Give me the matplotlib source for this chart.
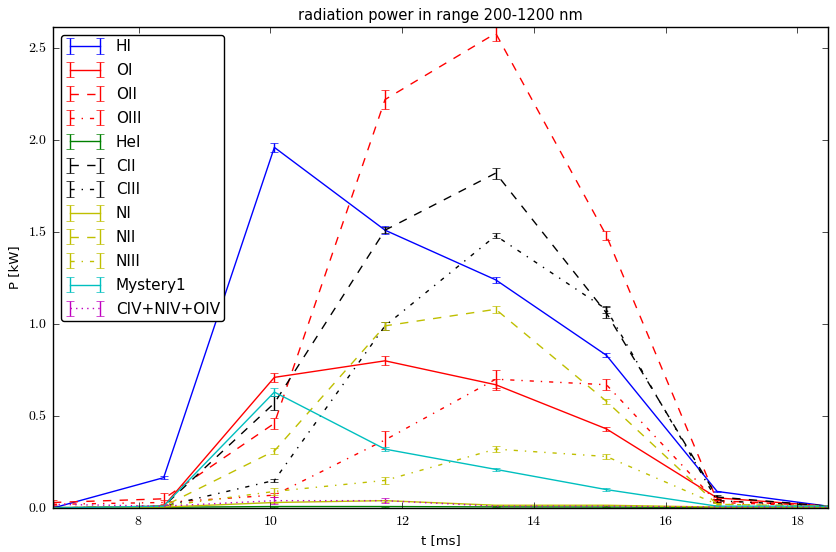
import numpy as np
import matplotlib
matplotlib.use('Agg')
import matplotlib.pyplot as plt
from matplotlib.ticker import FuncFormatter

plt.style.use('classic')
plt.rcParams['mathtext.fontset'] = 'cm'

# time points [ms]
t = [6.70, 8.38, 10.06, 11.74, 13.42, 15.10, 16.78, 18.46]

# radiated power [kW] and errors, per species
HI = [0.00, 0.165, 1.96, 1.51, 1.24, 0.83, 0.09, 0.01]
HI_err = [0.005, 0.008, 0.025, 0.02, 0.015, 0.01, 0.005, 0.003]
OI = [0.00, 0.01, 0.71, 0.80, 0.67, 0.43, 0.055, 0.01]
OI_err = [0.003, 0.005, 0.025, 0.025, 0.03, 0.01, 0.005, 0.003]
OII = [0.03, 0.05, 0.46, 2.22, 2.58, 1.48, 0.04, 0.01]
OII_err = [0.015, 0.03, 0.03, 0.05, 0.04, 0.025, 0.01, 0.005]
OIII = [0.02, 0.03, 0.07, 0.37, 0.70, 0.67, 0.03, 0.01]
OIII_err = [0.01, 0.015, 0.01, 0.05, 0.05, 0.03, 0.005, 0.005]
HeI = [0.003, 0.004, 0.008, 0.008, 0.006, 0.005, 0.003, 0.003]
HeI_err = [0.002, 0.002, 0.003, 0.003, 0.003, 0.002, 0.002, 0.002]
CII = [0.00, 0.01, 0.57, 1.51, 1.82, 1.06, 0.06, 0.01]
CII_err = [0.003, 0.005, 0.04, 0.015, 0.03, 0.03, 0.01, 0.003]
CIII = [0.00, 0.01, 0.15, 0.99, 1.48, 1.08, 0.04, 0.01]
CIII_err = [0.003, 0.005, 0.01, 0.02, 0.015, 0.02, 0.005, 0.003]
NI = [0.00, 0.005, 0.03, 0.04, 0.015, 0.015, 0.005, 0.005]
NI_err = [0.002, 0.002, 0.005, 0.005, 0.004, 0.004, 0.002, 0.002]
NII = [0.00, 0.01, 0.31, 0.99, 1.08, 0.58, 0.02, 0.01]
NII_err = [0.003, 0.005, 0.015, 0.02, 0.02, 0.015, 0.005, 0.003]
NIII = [0.00, 0.01, 0.09, 0.15, 0.32, 0.28, 0.02, 0.01]
NIII_err = [0.003, 0.005, 0.02, 0.02, 0.015, 0.015, 0.005, 0.003]
Mystery1 = [0.00, 0.01, 0.63, 0.32, 0.21, 0.10, 0.01, 0.01]
Mystery1_err = [0.003, 0.005, 0.02, 0.01, 0.01, 0.008, 0.003, 0.003]
CNO_IV = [0.02, 0.01, 0.04, 0.04, 0.01, 0.01, 0.005, 0.005]
CNO_IV_err = [0.01, 0.005, 0.02, 0.015, 0.008, 0.008, 0.003, 0.003]

series = [
    ('HI', HI, HI_err, 'b', '-'),
    ('OI', OI, OI_err, 'r', '-'),
    ('OII', OII, OII_err, 'r', '--'),
    ('OIII', OIII, OIII_err, 'r', '-.'),
    ('HeI', HeI, HeI_err, 'g', '-'),
    ('CII', CII, CII_err, 'k', '--'),
    ('CIII', CIII, CIII_err, 'k', '-.'),
    ('NI', NI, NI_err, 'y', '-'),
    ('NII', NII, NII_err, 'y', '--'),
    ('NIII', NIII, NIII_err, 'y', '-.'),
    ('Mystery1', Mystery1, Mystery1_err, 'c', '-'),
    ('CIV+NIV+OIV', CNO_IV, CNO_IV_err, 'm', ':'),
]

fig = plt.figure(figsize=(8.37, 5.52), dpi=100, facecolor='white')
ax = fig.add_axes([0.0633, 0.0797, 0.9257, 0.8713])

for name, y, e, c, ls in series:
    ax.errorbar(t, y, yerr=e, color=c, ls=ls, lw=1.0, capsize=3, label=name)

ax.set_xlim(6.70, 18.46)
ax.set_ylim(0, 2.614)
ax.set_xticks([8, 10, 12, 14, 16, 18])
ax.set_yticks([0.0, 0.5, 1.0, 1.5, 2.0, 2.5])
ax.xaxis.set_major_formatter(FuncFormatter(lambda v, p: r'$%d$' % v))
ax.yaxis.set_major_formatter(FuncFormatter(lambda v, p: r'$%.1f$' % v))
ax.tick_params(labelsize=10)

ax.set_xlabel('t [ms]', fontsize=9.5)
ax.set_ylabel('P [kW]', fontsize=9.5)
ax.set_title('radiation power in range 200-1200 nm', fontsize=10.5)

leg = ax.legend(loc='upper left', fontsize=11, fancybox=True, numpoints=2,
                labelspacing=0.58, handlelength=2.55, handletextpad=0.76,
                borderpad=0.3, borderaxespad=0.5)

fig.savefig('out.png', dpi=100, facecolor='white')
